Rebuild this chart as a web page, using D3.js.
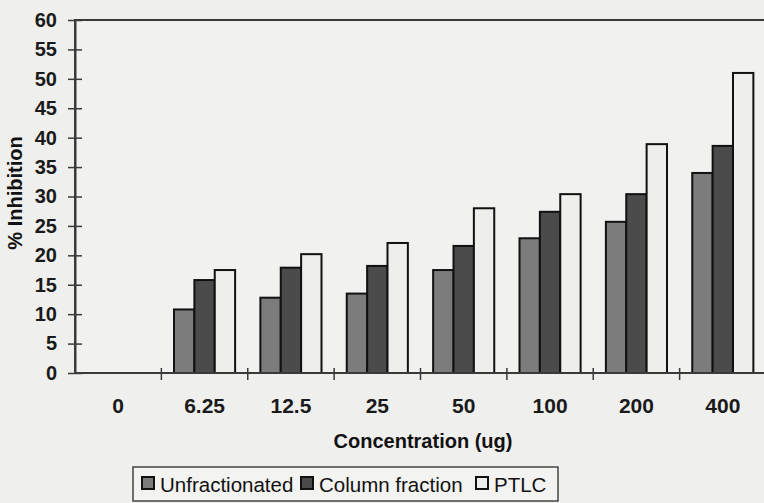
<!DOCTYPE html>
<html>
<head>
<meta charset="utf-8">
<script src="https://cdn.jsdelivr.net/npm/d3@7"></script>
<style>
  body { margin: 0; background: #efefed; }
  svg { display: block; font-family: "Liberation Sans", Arial, sans-serif; }
  .tick-label { fill: #1a1a1a; }
</style>
</head>
<body>
<svg width="764" height="503"></svg>
<script>
var categories = ["0", "6.25", "12.5", "25", "50", "100", "200", "400"];
var unfractionated = [0, 10.8, 12.8, 13.5, 17.5, 22.9, 25.7, 34.0];
var columnFraction = [0, 15.8, 17.9, 18.2, 21.6, 27.4, 30.4, 38.6];
var ptlc = [0, 17.5, 20.2, 22.1, 28.0, 30.4, 38.9, 51.0];
var seriesNames = ["Unfractionated", "Column fraction", "PTLC"];
var yTicks = [0, 5, 10, 15, 20, 25, 30, 35, 40, 45, 50, 55, 60];

var seriesValues = [unfractionated, columnFraction, ptlc],
    seriesColors = ["#7c7c7c", "#4b4b4b", "#eeeeec"];

var svg = d3.select("svg"),
    plot = {left: 75, right: 766, top: 20, bottom: 373};

var x = d3.scaleBand().domain(categories).range([plot.left, plot.right]);
var x1 = d3.scaleBand().domain(seriesNames).range([0, x.bandwidth()]).paddingOuter(0.62);
var y = d3.scaleLinear().domain([0, 60]).range([plot.bottom, plot.top]);

// plot frame (top border, right edge runs off the page)
svg.append("rect")
    .attr("x", plot.left)
    .attr("y", plot.top)
    .attr("width", plot.right - plot.left)
    .attr("height", plot.bottom - plot.top)
    .attr("fill", "#f1f1ef")
    .attr("stroke", "#3a3a3a")
    .attr("stroke-width", 2);

// Bars
var groups = svg.append("g").selectAll("g")
    .data(categories)
    .join("g")
    .attr("transform", function(d) { return "translate(" + x(d) + ",0)"; });

groups.selectAll("rect")
    .data(function(d, i) {
        return seriesNames.map(function(s, j) { return {series: s, value: seriesValues[j][i], k: j}; })
            .filter(function(e) { return e.value > 0; });
    })
    .join("rect")
    .attr("x", function(d) { return x1(d.series); })
    .attr("y", function(d) { return y(d.value); })
    .attr("width", x1.bandwidth())
    .attr("height", function(d) { return y(0) - y(d.value); })
    .attr("fill", function(d) { return seriesColors[d.k]; })
    .attr("stroke", "#111")
    .attr("stroke-width", 2);

// Y axis
var yAxis = svg.append("g")
    .attr("transform", "translate(" + plot.left + ",0)")
    .call(d3.axisLeft(y).tickValues(yTicks).tickSize(7).tickPadding(12).tickSizeOuter(0));
yAxis.select(".domain").attr("stroke", "#3a3a3a").attr("stroke-width", 2);
yAxis.selectAll(".tick line").attr("x2", 7).attr("x1", -7).attr("stroke", "#3a3a3a").attr("stroke-width", 1.5);
yAxis.selectAll(".tick text")
    .attr("class", "tick-label")
    .attr("x", -18)
    .style("font-size", "20px")
    .style("font-weight", "bold");

// X axis: ticks sit on category boundaries
var xAxis = svg.append("g")
    .attr("transform", "translate(0," + plot.bottom + ")");
xAxis.append("line")
    .attr("x1", plot.left).attr("x2", plot.right)
    .attr("stroke", "#3a3a3a").attr("stroke-width", 2);
xAxis.selectAll(".xtick")
    .data(categories.slice(1))
    .join("line")
    .attr("class", "xtick")
    .attr("x1", function(d) { return x(d); })
    .attr("x2", function(d) { return x(d); })
    .attr("y1", -5).attr("y2", 7)
    .attr("stroke", "#3a3a3a").attr("stroke-width", 1.5);
xAxis.selectAll(".xlabel")
    .data(categories)
    .join("text")
    .attr("class", "tick-label")
    .attr("x", function(d) { return x(d) + x.bandwidth() / 2; })
    .attr("y", 40)
    .attr("text-anchor", "middle")
    .style("font-size", "21px")
    .style("font-weight", "bold")
    .text(function(d) { return d; });

// Axis titles
svg.append("text")
    .attr("x", 423)
    .attr("y", 448)
    .attr("text-anchor", "middle")
    .style("font-size", "20px")
    .style("font-weight", "bold")
    .attr("fill", "#111")
    .text("Concentration (ug)");

svg.append("text")
    .attr("transform", "translate(22,193) rotate(-90)")
    .attr("text-anchor", "middle")
    .style("font-size", "20px")
    .style("font-weight", "bold")
    .attr("fill", "#111")
    .text("% Inhibition");

// Legend
var legend = {
    canvas: svg.append("g").attr("transform", "translate(133,467)"),
    width: 425,
    height: 34,
    offsets: [8, 167, 342]
};
legend.canvas.append("rect")
    .attr("x", 0).attr("y", 0)
    .attr("width", legend.width).attr("height", legend.height)
    .attr("fill", "#f3f3f1")
    .attr("stroke", "#444")
    .attr("stroke-width", 1.5);

var items = legend.canvas.selectAll(".item")
    .data(seriesNames)
    .join("g")
    .attr("class", "item")
    .attr("transform", function(d, i) { return "translate(" + legend.offsets[i] + ",0)"; });
items.append("rect")
    .attr("x", 1).attr("y", 10)
    .attr("width", 12).attr("height", 12)
    .attr("fill", function(d, i) { return seriesColors[i]; })
    .attr("stroke", "#111")
    .attr("stroke-width", 2);
items.append("text")
    .attr("x", 19)
    .attr("y", 25)
    .style("font-size", "20.5px")
    .attr("fill", "#111")
    .text(function(d) { return d; });
</script>
</body>
</html>
